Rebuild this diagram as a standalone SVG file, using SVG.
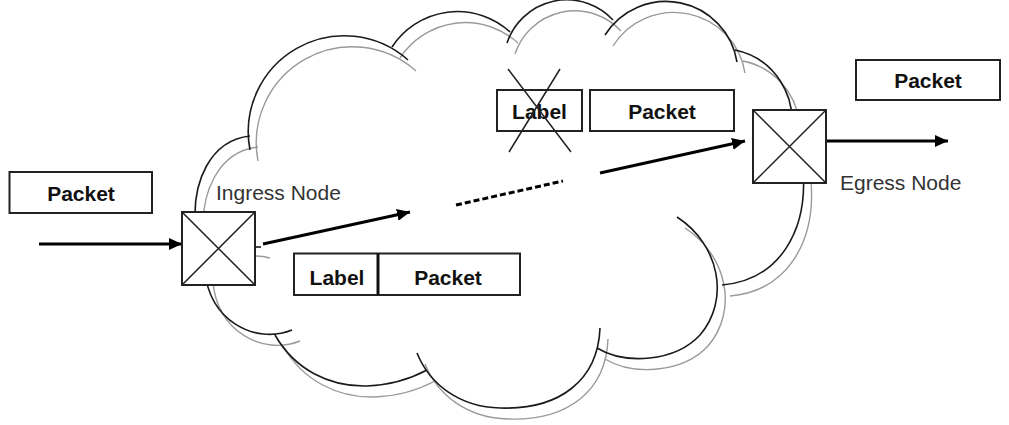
<svg xmlns="http://www.w3.org/2000/svg" width="1009" height="425" viewBox="0 0 1009 425">
<style>
.bg{fill:#fff}
.cloud{fill:none;stroke:#1a1a1a;stroke-width:1.6}
.shadow{fill:none;stroke:#9a9a9a;stroke-width:1.4}
.box{fill:#fff;stroke:#222;stroke-width:2}
.xl{stroke:#222;stroke-width:1.5;fill:none}
.conn{stroke:#000;stroke-width:3;fill:none}
.b{font-family:"Liberation Sans",Arial,sans-serif;font-weight:bold;font-size:21px;fill:#111;text-anchor:middle}
.r{font-family:"Liberation Sans",Arial,sans-serif;font-size:21px;fill:#333}
</style>
<defs>
<marker id="ah" markerUnits="userSpaceOnUse" markerWidth="14" markerHeight="13" refX="13" refY="6" orient="auto">
<path d="M0,0 L13,6 L0,12 z" fill="#000"/>
</marker>
<path id="cloudpath" d="M196,232 C190,180 212,140 250,136
M250,150 A96,96 0 0 1 408,60
M392,47 A78,78 0 0 1 510,32
M507,43 A63,63 0 0 1 613,20
M605,35 A72,72 0 0 1 737,62
M735,50 A71,71 0 0 1 790,135
M803,170 C808,230 780,280 722,285
M677,217 C720,245 730,300 700,335 C675,362 625,365 597,348
M600,328 C598,380 560,410 500,408 C460,407 430,385 417,353
M275,335 C295,370 330,387 367,386 C392,385 412,378 427,370
M205,270 C208,320 255,345 292,330"/>
</defs>
<rect class="bg" x="0" y="0" width="1009" height="425"/>
<g id="cloud">
<use href="#cloudpath" class="shadow" transform="translate(8,11)"/>
<use href="#cloudpath" class="cloud"/>
<path d="M255,247 L261,247" class="cloud"/>
<path d="M256,256 Q263,256 270,258" class="shadow"/>
</g>
<g id="connectors">
<line class="conn" x1="39" y1="244" x2="182" y2="244" marker-end="url(#ah)"/>
<line class="conn" x1="263" y1="244" x2="410" y2="212" marker-end="url(#ah)"/>
<line class="conn" x1="456" y1="205" x2="563" y2="181" stroke-width="2.5" stroke-dasharray="6,3"/>
<line class="conn" x1="600" y1="173" x2="745" y2="141" marker-end="url(#ah)"/>
<line class="conn" x1="826" y1="141" x2="948" y2="141" marker-end="url(#ah)"/>
</g>
<g id="packet-in">
<rect class="box" x="9.5" y="172" width="142.5" height="41"/>
<text class="b" x="81" y="201">Packet</text>
</g>
<g id="ingress-node">
<rect class="box" x="182" y="212" width="73" height="73"/>
<path class="xl" d="M182,212 L255,285 M255,212 L182,285"/>
<text class="r" x="216" y="200">Ingress Node</text>
</g>
<g id="labeled-packet">
<rect class="box" x="294" y="253.5" width="226" height="41.5"/>
<line x1="378" y1="253.5" x2="378" y2="295" stroke="#111" stroke-width="3"/>
<text class="b" x="337" y="285">Label</text>
<text class="b" x="448" y="285">Packet</text>
</g>
<g id="popped-label">
<rect class="box" x="497" y="90" width="85" height="41"/>
<text class="b" x="539.5" y="119">Label</text>
<path class="xl" d="M508,69 L571,152 M560,69 L509,152"/>
</g>
<g id="packet-mid">
<rect class="box" x="590" y="90" width="144" height="41"/>
<text class="b" x="662" y="119">Packet</text>
</g>
<g id="egress-node">
<rect class="box" x="753" y="110" width="73" height="73"/>
<path class="xl" d="M753,110 L826,183 M826,110 L753,183"/>
<text class="r" x="840" y="190">Egress Node</text>
</g>
<g id="packet-out">
<rect class="box" x="856" y="60" width="144" height="40"/>
<text class="b" x="928" y="88">Packet</text>
</g>
</svg>
